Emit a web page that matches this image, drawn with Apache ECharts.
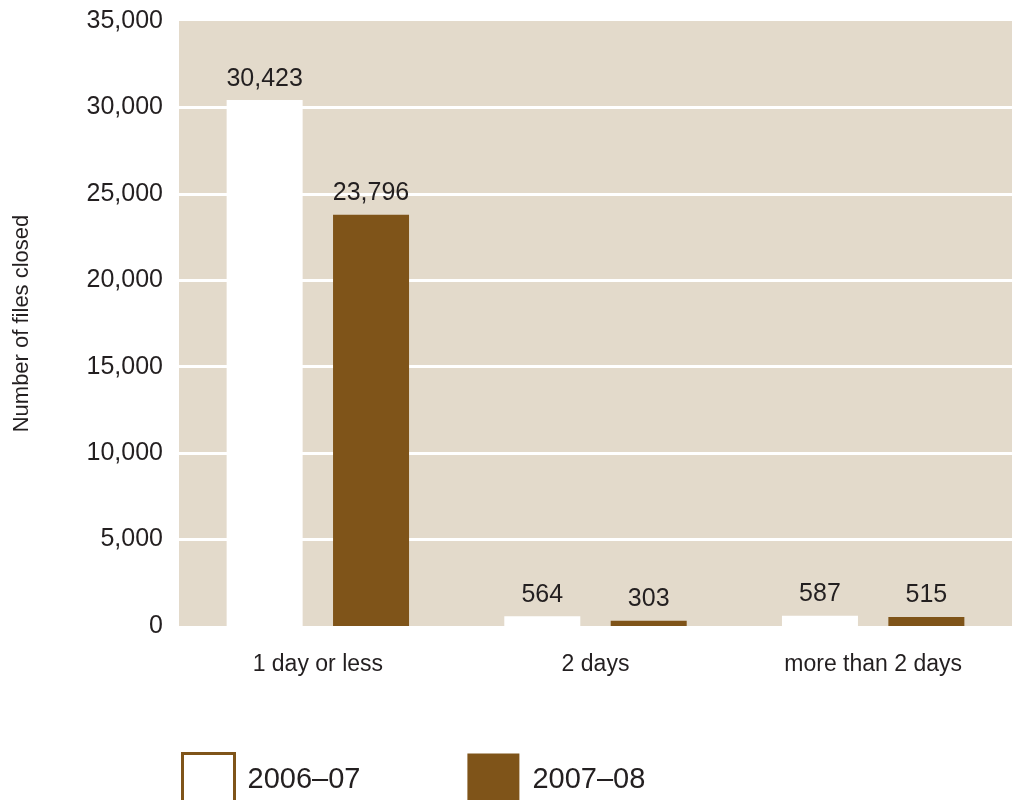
<!DOCTYPE html>
<html>
<head>
<meta charset="utf-8">
<script src="https://cdn.jsdelivr.net/npm/echarts@6/dist/echarts.min.js"></script>
<style>
  html, body { margin: 0; padding: 0; background: #ffffff; }
  #chart { width: 1012px; height: 800px; }
</style>
</head>
<body>
<div id="chart"></div>
<script>
const categories = ['1 day or less', '2 days', 'more than 2 days'];
const seriesNames = ['2006–07', '2007–08'];
const values2006 = [30423, 564, 587];
const values2007 = [23796, 303, 515];
const yTicks = { min: 0, max: 35000, interval: 5000 };

const FONT = "'Liberation Sans Narrow', 'Arial Narrow', 'Liberation Sans', sans-serif";
const TEXT = '#231f20';
const BROWN = '#7f5419';
const BEIGE = '#e3dacb';

const chart = echarts.init(document.getElementById('chart'), null, { renderer: 'canvas' });

const fmt = v => Number(v).toLocaleString('en-US');

chart.setOption({
  animation: false,
  backgroundColor: '#ffffff',
  grid: {
    left: 179, right: 0, top: 21, bottom: 174,
    containLabel: false,
    outerBoundsMode: 'none',
    show: true, backgroundColor: BEIGE, borderWidth: 0
  },
  legend: {
    left: 176, top: 747,
    itemWidth: 52, itemHeight: 52, itemGap: 107,
    icon: 'rect',
    textStyle: { fontFamily: FONT, fontSize: 29, color: TEXT, padding: [0, 0, 0, 8] },
    data: [
      { name: seriesNames[0], itemStyle: { color: '#ffffff', borderColor: BROWN, borderWidth: 3 } },
      { name: seriesNames[1], itemStyle: { color: BROWN } }
    ]
  },
  xAxis: {
    type: 'category',
    data: categories,
    axisLine: { show: false },
    axisTick: { show: false },
    axisLabel: { fontFamily: FONT, fontSize: 23, color: TEXT, margin: 27 }
  },
  yAxis: {
    type: 'value',
    min: yTicks.min, max: yTicks.max, interval: yTicks.interval,
    name: 'Number of files closed',
    nameLocation: 'middle',
    nameGap: 146,
    nameRotate: 90,
    nameTextStyle: { fontFamily: FONT, fontSize: 22, color: TEXT },
    axisLine: { show: false },
    axisTick: { show: false },
    splitLine: { show: true, showMaxLine: false, showMinLine: false, lineStyle: { color: '#ffffff', width: 3 } },
    axisLabel: { fontFamily: FONT, fontSize: 25, color: TEXT, margin: 16, formatter: v => fmt(v) }
  },
  series: [
    {
      name: seriesNames[0], type: 'bar', data: values2006,
      barWidth: 76, barGap: '40%',
      itemStyle: { color: '#ffffff' },
      label: { show: true, position: 'top', distance: 9, fontFamily: FONT, fontSize: 25, color: TEXT, formatter: p => fmt(p.value) }
    },
    {
      name: seriesNames[1], type: 'bar', data: values2007,
      barWidth: 76,
      itemStyle: { color: BROWN },
      label: { show: true, position: 'top', distance: 9, fontFamily: FONT, fontSize: 25, color: TEXT, formatter: p => fmt(p.value) }
    }
  ]
});
</script>
</body>
</html>
